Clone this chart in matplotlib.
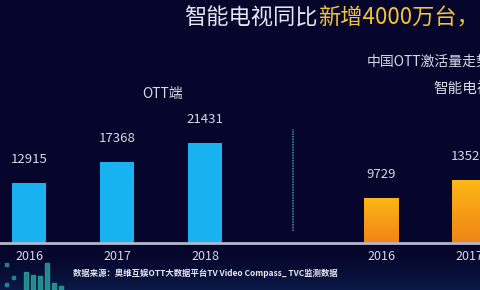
import numpy as np
import matplotlib
matplotlib.use("Agg")
import matplotlib.pyplot as plt
from matplotlib.patches import Rectangle

plt.rcParams['font.family'] = ['Noto Sans CJK SC', 'DejaVu Sans']

# data
ott_years = ['2016', '2017', '2018']
ott_values = [12915, 17368, 21431]
tv_years = ['2016', '2017']
tv_values = [9729, 13526]

title_white = '智能电视同比'
title_yellow = '新增4000万台，'
ott_label = 'OTT端'
sub_title = '中国OTT激活量走势'
tv_label = '智能电视端'
source = '数据来源：奥维互娱OTT大数据平台TV Video Compass_ TVC监测数据'

bg = '#06062c'
blue = '#17b2ef'
text_col = '#d6d8e4'

fig = plt.figure(figsize=(4.8, 2.9), dpi=100, facecolor=bg)

# faint lighter glow at the bottom of the slide
band = fig.add_axes([0, 0, 1, 40 / 290])
glow = np.linspace(0, 1, 60).reshape(-1, 1) ** 1.5
band.imshow(glow, aspect='auto', origin='upper', extent=[0, 1, 0, 1],
            cmap=matplotlib.colors.LinearSegmentedColormap.from_list('b', [bg, '#0b1a48']))
band.axis('off')

ax = fig.add_axes([0, 47 / 290, 1, 243 / 290])
ax.set_facecolor('none')

x_ott = np.arange(len(ott_values))
x_tv = np.arange(len(tv_values)) + 4
w = 0.39

ax.bar(x_ott, ott_values, w, color=blue, zorder=2)

# orange bars with a vertical gradient
grad = np.linspace(0, 1, 100).reshape(-1, 1)
cmap = matplotlib.colors.LinearSegmentedColormap.from_list('o', ['#f08418', '#fcb814'])
tv_bars = ax.bar(x_tv, tv_values, w, color='none', zorder=2)
for b in tv_bars:
    im = ax.imshow(grad, cmap=cmap, aspect='auto', origin='lower', zorder=2,
                   extent=[b.get_x(), b.get_x() + b.get_width(), 0, b.get_height()])
    im.set_clip_path(b)
ax.set_xlim(-0.33, 5.125)
ax.set_ylim(0, 52150)

for xs, vs in [(x_ott, ott_values), (x_tv, tv_values)]:
    for x, v in zip(xs, vs):
        ax.annotate(str(v), (x, v), xytext=(0, 17), textcoords='offset points',
                    ha='center', va='center', color=text_col, fontsize=9.5)

ax.axhline(0, color='#b4b8ca', lw=2, zorder=3, clip_on=False)

ax.set_xticks(list(x_ott) + list(x_tv))
ax.set_xticklabels(ott_years + tv_years, color=text_col, fontsize=9)
ax.tick_params(axis='x', length=0, pad=5)
ax.set_yticks([])
for s in ax.spines.values():
    s.set_visible(False)

# dotted separator
ax.plot([3.0, 3.0], [2500, 24500], color='#3a9cb4', lw=1.2, ls=(0, (1, 0.6)), alpha=0.85, zorder=1)

# titles
fig.text(318 / 480, 1 - 18 / 290, title_white, color='#e6e6f0', fontsize=16, ha='right', va='center')
fig.text(318 / 480, 1 - 18 / 290, title_yellow, color='#f2c23a', fontsize=16, ha='left', va='center')
fig.text(367 / 480, 1 - 62 / 290, sub_title, color=text_col, fontsize=10, ha='left', va='center')
fig.text(433 / 480, 1 - 89 / 290, tv_label, color=text_col, fontsize=10.5, ha='left', va='center')
fig.text(163 / 480, 1 - 94 / 290, ott_label, color=text_col, fontsize=10, ha='center', va='center')
fig.text(73 / 480, 1 - 273 / 290, source, color='#e8e8f0', fontsize=6, fontweight='bold', ha='left', va='center')

# little equaliser decoration bottom-left
for px, top in [(24, 272), (31, 275), (38, 276), (45, 263), (52, 283), (59, 286)]:
    fig.patches.append(Rectangle((px / 480, 0), 4 / 480, (290 - top) / 290, transform=fig.transFigure,
                                 color='#2aa5a0', alpha=0.8))
for px, py in [(5, 266), (12, 279), (5, 286)]:
    fig.patches.append(Rectangle((px / 480, 1 - py / 290), 3 / 480, 3 / 290, transform=fig.transFigure,
                                 color='#2aa5a0', alpha=0.7))

fig.savefig('out.png', dpi=100, facecolor=bg)
